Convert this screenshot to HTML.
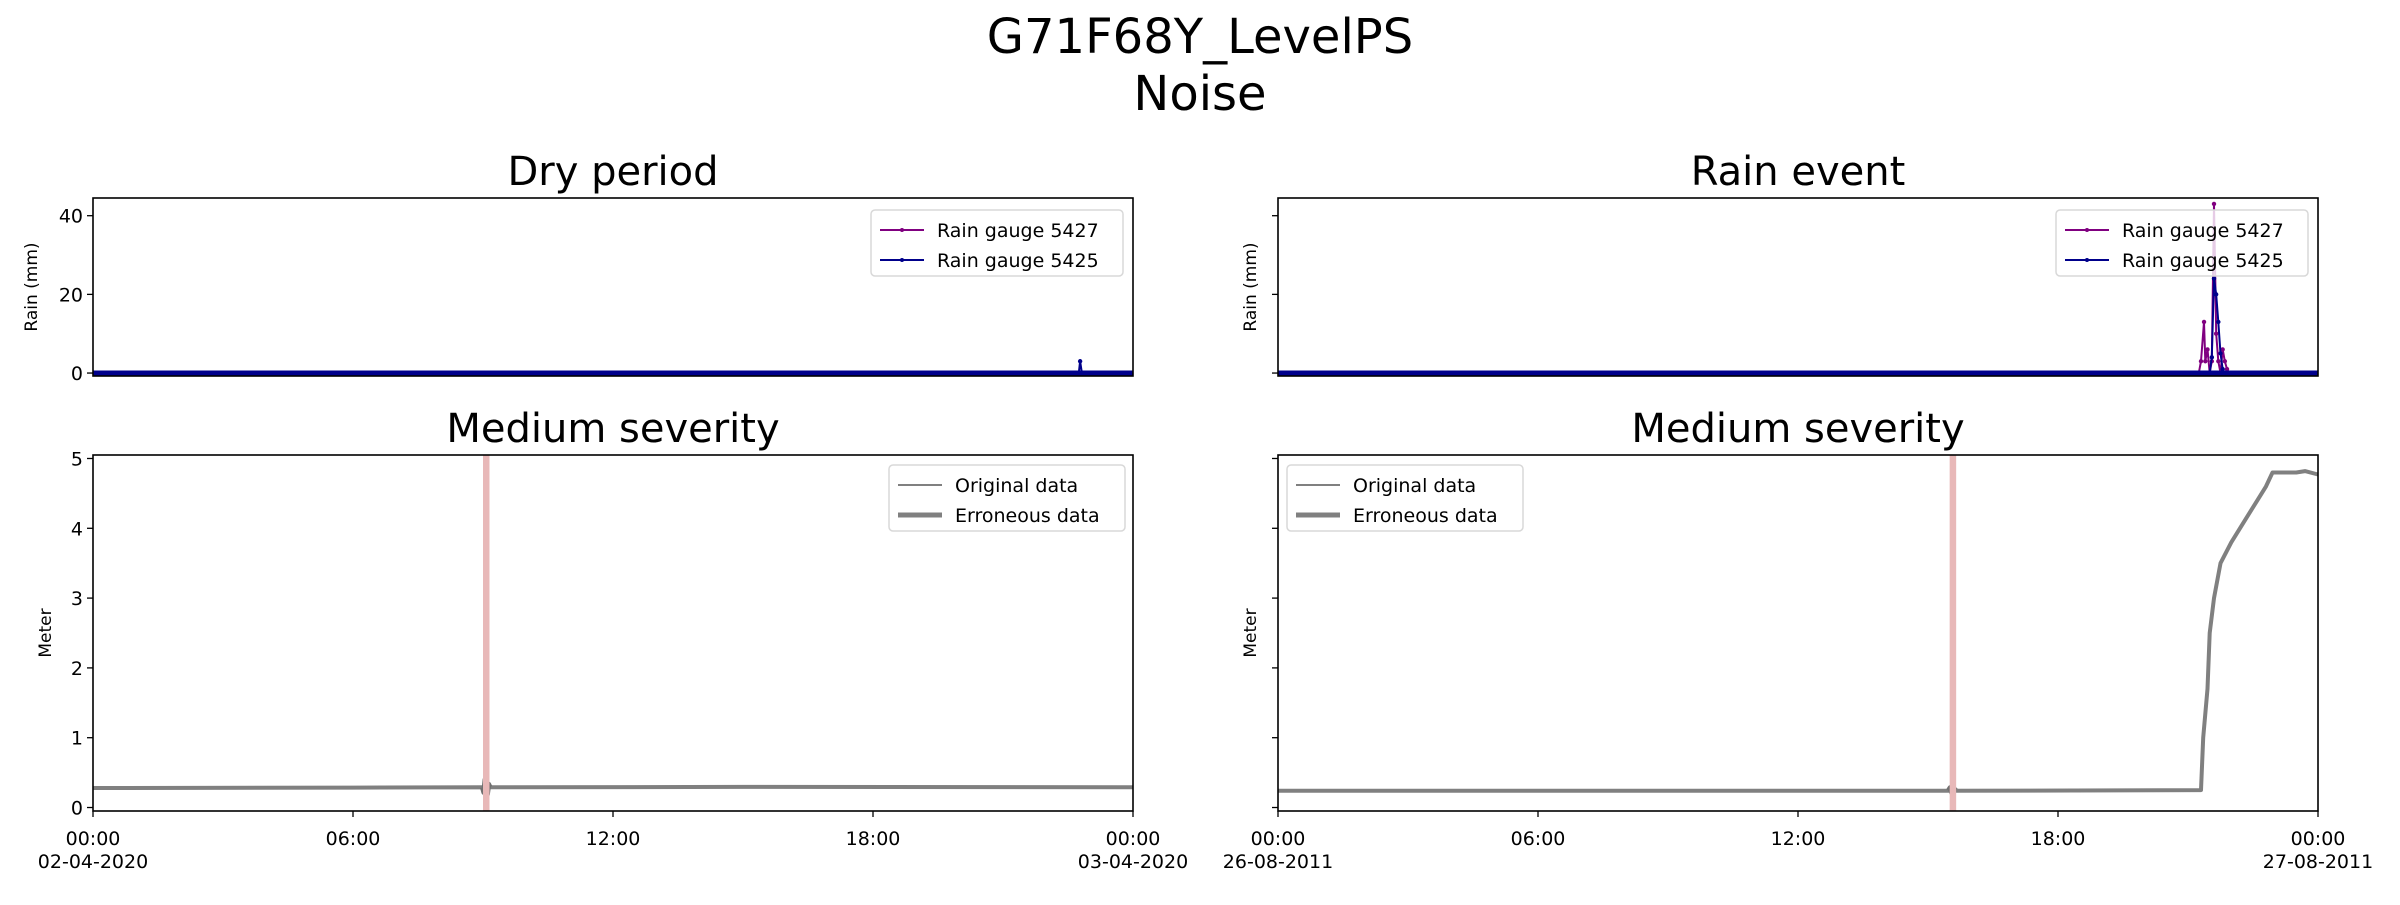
<!DOCTYPE html>
<html><head><meta charset="utf-8"><style>
html,body{margin:0;padding:0;background:#fff;}
svg text{font-family:"DejaVu Sans","Liberation Sans",sans-serif;}
</style></head><body>
<svg id="fig" width="2400" height="900" xmlns="http://www.w3.org/2000/svg">
<text x="1200" y="53" font-size="48" text-anchor="middle">G71F68Y_LevelPS</text>
<text x="1200" y="110" font-size="48" text-anchor="middle">Noise</text>
</svg>
<script>
// ---- data ----
const xTickHours = [0, 6, 12, 18, 24];
const xTickLabelsLeft = ["00:00", "06:00", "12:00", "18:00", "00:00"];
const xTickLabelsRight = ["00:00", "06:00", "12:00", "18:00", "00:00"];
const dateLabelsLeft = ["02-04-2020", "03-04-2020"];
const dateLabelsRight = ["26-08-2011", "27-08-2011"];
const rainTicks = [0, 20, 40];
const meterTicks = [0, 1, 2, 3, 4, 5];
// dry period rain [hour, mm]
const dryRain5427 = [[0,0],[24,0]];
const dryRain5425 = [[0,0],[22.75,0],[22.78,3],[22.82,0],[24,0]];
// rain event rain
const evRain5427 = [[0,0],[21.25,0],[21.30,3],[21.37,13],[21.40,3],[21.45,6],[21.50,0],[21.55,3],[21.60,43],[21.65,10],[21.70,3],[21.75,0],[21.80,6],[21.85,3],[21.90,1],[21.95,0],[24,0]];
const evRain5425 = [[0,0],[21.50,0],[21.55,4],[21.60,24],[21.65,20],[21.70,13],[21.75,5],[21.80,1],[21.85,0],[24,0]];
// level [hour, m]
const dryLevel = [[0,0.28],[6,0.285],[9.0,0.29],[9.03,0.22],[9.06,0.40],[9.09,0.19],[9.12,0.33],[9.15,0.29],[15,0.295],[24,0.29]];
const dryErr = [[9.0,0.29],[9.03,0.22],[9.06,0.40],[9.09,0.19],[9.12,0.33],[9.15,0.29]];
const evLevel = [[0,0.24],[15.5,0.24],[21.3,0.25],[21.35,1.0],[21.45,1.7],[21.5,2.5],[21.6,3.0],[21.75,3.5],[22.0,3.8],[22.3,4.1],[22.6,4.4],[22.8,4.6],[22.95,4.8],[23.5,4.8],[23.7,4.82],[24,4.77]];
const evErr = [[15.48,0.24],[15.52,0.28],[15.56,0.21],[15.6,0.26],[15.64,0.24]];
const dryBand = [9.0, 9.15];
const evBand = [15.5, 15.65];

const NS = "http://www.w3.org/2000/svg";
const svg = document.getElementById('fig');
function el(tag, attrs, parent) {
  const e = document.createElementNS(NS, tag);
  for (const k in attrs) e.setAttribute(k, attrs[k]);
  (parent || svg).appendChild(e);
  return e;
}
function txt(s, attrs) { const t = el('text', attrs); t.textContent = s; return t; }

function panel(opt) {
  const {x0, x1, y0, y1, ymin, ymax} = opt;
  const sx = h => x0 + (h / 24) * (x1 - x0);
  const sy = v => y1 - (v - ymin) / (ymax - ymin) * (y1 - y0);
  const g = el('g', {});
  
  
  return {sx, sy, g};
}
function poly(p, pts, color, w, name) {
  const d = pts.map((q, i) => (i ? 'L' : 'M') + p.sx(q[0]).toFixed(1) + ' ' + p.sy(q[1]).toFixed(1)).join(' ');
  const e = el('path', {d: d, fill: 'none', stroke: color, 'stroke-width': w, 'stroke-linejoin': 'round'}, p.g);
  
  
  return e;
}
function markers(p, pts, color, name) {
  pts.forEach(q => {
    const c = el('circle', {cx: p.sx(q[0]), cy: p.sy(q[1]), r: 2.2, fill: color}, p.g);
    
    
  });
}
function frame(p, o) {
  const r = el('rect', {x: o.x0, y: o.y0, width: o.x1 - o.x0, height: o.y1 - o.y0, fill: 'none', stroke: '#000', 'stroke-width': 1.6});
  
  
}
function yTicks(p, o, ticks, showLabels, name) {
  ticks.forEach(t => {
    const y = p.sy(t);
    el('line', {x1: o.x0 - 6, x2: o.x0, y1: y, y2: y, stroke: '#000', 'stroke-width': 1.3});
    if (showLabels) {
      const e = txt(String(t), {x: o.x0 - 10, y: y + 7, 'font-size': 19, 'text-anchor': 'end'});
      
      
    }
  });
}
function xTicks(p, o, labels, dates, name) {
  xTickHours.forEach((h, i) => {
    const x = p.sx(h);
    el('line', {x1: x, x2: x, y1: o.y1, y2: o.y1 + 6, stroke: '#000', 'stroke-width': 1.3});
    const e = txt(labels[i], {x: x, y: o.y1 + 34, 'font-size': 19, 'text-anchor': 'middle'});
    
    
  });
  [0, 24].forEach((h, i) => {
    const e = txt(dates[i], {x: p.sx(h), y: o.y1 + 57, 'font-size': 19, 'text-anchor': 'middle'});
    
    
  });
}
function legend(x, y, w, entries, name) {
  const g = el('g', {});
  
  
  el('rect', {x: x, y: y, width: w, height: 66, rx: 4, fill: '#fff', 'fill-opacity': 0.8, stroke: '#d8d8d8', 'stroke-width': 1.5}, g);
  entries.forEach((en, i) => {
    const yy = y + 20 + i * 30;
    el('line', {x1: x + 9, x2: x + 53, y1: yy, y2: yy, stroke: en.c, 'stroke-width': en.w}, g);
    if (en.m) el('circle', {cx: x + 31, cy: yy, r: 2, fill: en.c}, g);
    const t = el('text', {x: x + 66, y: yy + 7, 'font-size': 19}, g);
    t.textContent = en.t;
    
    
  });
}

const cols = [
  {x0: 93, x1: 1133, title: 'Dry period', r27: dryRain5427, r25: dryRain5425, lvl: dryLevel, err: dryErr, band: dryBand, labels: xTickLabelsLeft, dates: dateLabelsLeft, leftLab: true, rainLeg: 871, lvlLeg: 889, side: 'left'},
  {x0: 1278, x1: 2318, title: 'Rain event', r27: evRain5427, r25: evRain5425, lvl: evLevel, err: evErr, band: evBand, labels: xTickLabelsRight, dates: dateLabelsRight, leftLab: false, rainLeg: 2056, lvlLeg: 1287, side: 'right'}
];
cols.forEach(c => {
  const ro = {x0: c.x0, x1: c.x1, y0: 198, y1: 376, ymin: -0.75, ymax: 44.5, name: c.side + '-rain-panel'};
  const rp = panel(ro);
  const t1 = txt(c.title, {x: (c.x0 + c.x1) / 2, y: 185, 'font-size': 40, 'text-anchor': 'middle'});
  
  
  poly(rp, c.r27, '#800080', 2, 'rain-5427-line');
  markers(rp, c.r27.slice(1, -1), '#800080', 'rain-5427-point');
  poly(rp, c.r25, '#00008b', 2, 'rain-5425-line');
  markers(rp, c.r25.slice(1, -1), '#00008b', 'rain-5425-point');
  el('line', {x1: c.x0, x2: c.x1, y1: rp.sy(0), y2: rp.sy(0), stroke: '#00008b', 'stroke-width': 5});
  frame(rp, ro);
  yTicks(rp, ro, rainTicks, c.leftLab, 'rain-y-tick-label');
  const yl = txt('Rain (mm)', {x: 0, y: 0, 'font-size': 17, 'text-anchor': 'middle', transform: `translate(${c.x0 - (c.leftLab ? 56 : 22)},${(198 + 376) / 2}) rotate(-90)`});
  
  
  legend(c.rainLeg, 210, 252, [{c: '#800080', w: 2, m: true, t: 'Rain gauge 5427'}, {c: '#00008b', w: 2, m: true, t: 'Rain gauge 5425'}], c.side + '-rain-legend');

  const lo = {x0: c.x0, x1: c.x1, y0: 455, y1: 811, ymin: -0.05, ymax: 5.05, name: c.side + '-level-panel'};
  const lp = panel(lo);
  const t2 = txt('Medium severity', {x: (c.x0 + c.x1) / 2, y: 442, 'font-size': 40, 'text-anchor': 'middle'});
  
  
  const b = el('rect', {x: lp.sx(c.band[0]), y: 455, width: lp.sx(c.band[1]) - lp.sx(c.band[0]), height: 356, fill: '#e8b8b8'});
  
  
  poly(lp, c.lvl, '#808080', 4, 'original-data-line');
  poly(lp, c.err, '#707070', 6, 'erroneous-data-line');
  frame(lp, lo);
  yTicks(lp, lo, meterTicks, c.leftLab, 'meter-y-tick-label');
  const ml = txt('Meter', {x: 0, y: 0, 'font-size': 17, 'text-anchor': 'middle', transform: `translate(${c.x0 - (c.leftLab ? 42 : 22)},${(455 + 811) / 2}) rotate(-90)`});
  
  
  xTicks(lp, lo, c.labels, c.dates, 'x-tick-label');
  legend(c.lvlLeg, 465, 236, [{c: '#808080', w: 2, t: 'Original data'}, {c: '#808080', w: 5, t: 'Erroneous data'}], c.side + '-level-legend');
});
</script>
</body></html>
